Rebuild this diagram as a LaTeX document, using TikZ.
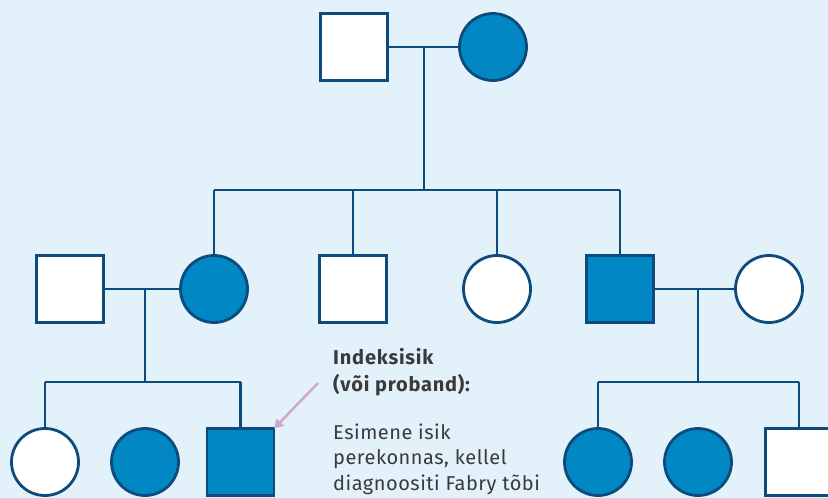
\documentclass[tikz,border=0pt]{standalone}
\usepackage{fontspec}
\setmainfont{Fira Sans}
\newfontfamily\lblfont[LetterSpace=2.5]{Fira Sans}
\newfontfamily\hdfont[LetterSpace=4]{Fira Sans}
\usetikzlibrary{arrows.meta}
\definecolor{bg}{HTML}{E3F1FB}
\definecolor{fillb}{HTML}{0087C4}
\definecolor{edge}{HTML}{0E4A7B}
\definecolor{txt}{HTML}{3A3A3A}
\definecolor{arr}{HTML}{CDAAC8}
\begin{document}
\begin{tikzpicture}[x=1pt,y=-1pt,
  sq/.style={draw=edge,line width=2.8pt,fill=white,minimum size=67pt,inner sep=0pt,outer sep=0pt},
  ci/.style={draw=edge,line width=2.8pt,fill=white,circle,minimum size=67pt,inner sep=0pt,outer sep=0pt},
  aff/.style={fill=fillb},
  ln/.style={draw=edge,line width=2.8pt},
  lbl/.style={anchor=west,inner sep=0pt,text=txt,font=\lblfont\fontsize{20}{23}\selectfont},
  hd/.style={lbl,font=\hdfont\fontsize{20}{23}\selectfont\bfseries}]
\fill[bg] (0,0) rectangle (828,498);
\useasboundingbox (0,0) rectangle (828,498);
% generation 1
\node[sq] (g1m) at (354,47) {};
\node[ci,aff] (g1f) at (493,47) {};
\coordinate (g1c) at (424,47);
\coordinate (g1s) at (424,190);
% generation 2
\node[sq] (a) at (70,289) {};
\node[ci,aff] (b) at (214,289) {};
\node[sq] (c) at (353,289) {};
\node[ci] (d) at (497,289) {};
\node[sq,aff] (e) at (620,289) {};
\node[ci] (f) at (769,289) {};
\coordinate (bc) at (145,289);
\coordinate (bs) at (145,382);
\coordinate (ec) at (698,289);
\coordinate (es) at (698,382);
% generation 3
\node[ci] (h) at (45,462) {};
\node[ci,aff] (i) at (145,462) {};
\node[sq,aff] (j) at (240.5,462) {};
\node[ci,aff] (k) at (598,462) {};
\node[ci,aff] (l) at (698,462) {};
\node[sq] (m) at (799,462) {};
% connectors
\draw[ln] (g1m.east) -- (g1f.west);
\draw[ln] (g1c) -- (g1s);
\draw[ln] (b.north |- g1s) -- (e.north |- g1s);
\draw[ln] (b.north |- g1s) -- (b.north);
\draw[ln] (c.north |- g1s) -- (c.north);
\draw[ln] (d.north |- g1s) -- (d.north);
\draw[ln] (e.north |- g1s) -- (e.north);
\draw[ln] (a.east) -- (b.west);
\draw[ln] (bc) -- (bs);
\draw[ln] (h.north |- bs) -- (j.north |- bs);
\draw[ln] (h.north |- bs) -- (h.north);
\draw[ln] (j.north |- bs) -- (j.north);
\draw[ln] (e.east) -- (f.west);
\draw[ln] (ec) -- (es);
\draw[ln] (k.north |- es) -- (m.north |- es);
\draw[ln] (k.north |- es) -- (k.north);
\draw[ln] (m.north |- es) -- (m.north);
% label
\node[hd] (t1) at (333,357) {Indeksisik};
\node[hd] (t2) at (333,385) {(või proband):};
\node[lbl] (t3) at (333,432) {Esimene isik};
\node[lbl] (t4) at (333,459) {perekonnas, kellel};
\node[lbl] (t5) at (333,485) {diagnoositi Fabry tõbi};
\coordinate (as) at (318,383);
\draw[arr,line width=2.5pt,-{Triangle[length=9pt,width=10pt]}] (as) -- (j.north east);
\end{tikzpicture}
\end{document}
